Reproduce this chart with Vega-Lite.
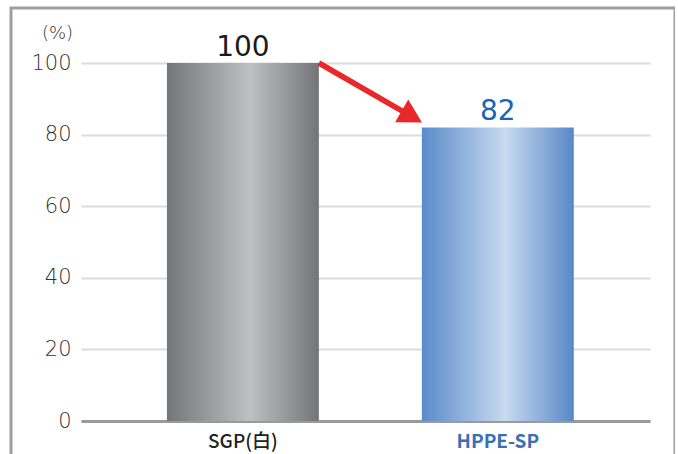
{
  "$schema": "https://vega.github.io/schema/vega-lite/v6.json",
  "width": 664,
  "height": 470,
  "autosize": "none",
  "padding": {"left": 11, "top": 8, "right": 0, "bottom": 0},
  "background": "white",
  "config": {
    "view": {"stroke": "#9d9ea0", "strokeWidth": 3},
    "font": "DejaVu Sans"
  },
  "datasets": {
    "bars": [
      {"name": "SGP(白)", "value": 100},
      {"name": "HPPE-SP", "value": 82}
    ],
    "arrow": [
      {"from": "SGP(白)", "to": "HPPE-SP", "y_from": 100, "y_to": 85}
    ]
  },
  "layer": [
    {
      "data": {"name": "bars"},
      "transform": [{"filter": "datum.name === 'SGP(白)'"}],
      "mark": {
        "type": "bar",
        "color": {
          "gradient": "linear", "x1": 0, "x2": 1, "y1": 0, "y2": 0,
          "stops": [
            {"offset": 0, "color": "#75767a"},
            {"offset": 0.55, "color": "#bfc0c4"},
            {"offset": 1, "color": "#737478"}
          ]
        }
      },
      "encoding": {
        "x": {
          "field": "name", "type": "nominal",
          "scale": {"domain": ["SGP(白)", "HPPE-SP"], "range": [70, 639], "paddingInner": 0.404, "paddingOuter": 0.318, "align": 0.53},
          "axis": {
            "title": null, "orient": "bottom", "offset": -57,
            "domainColor": "#9a9a9a", "domainWidth": 3, "ticks": false, "grid": false,
            "labelAngle": 0, "labelPadding": 11, "labelFontSize": 19, "labelFont": "Noto Sans CJK JP",
            "labelFontWeight": {"condition": {"test": "datum.value === 'HPPE-SP'", "value": "bold"}, "value": 500},
            "labelColor": {"condition": {"test": "datum.value === 'HPPE-SP'", "value": "#3b6fb6"}, "value": "#222222"}
          }
        },
        "y": {
          "field": "value", "type": "quantitative",
          "scale": {"domain": [0, 100], "range": [413, 55]},
          "axis": {
            "title": "(%)", "titleAngle": 0, "titleX": -25, "titleY": 25, "titleAlign": "center", "titleBaseline": "middle",
            "titleFontSize": 18, "titleFontWeight": 200, "titleColor": "#333333", "titleFont": "DejaVu Sans",
            "offset": -71, "domain": false, "ticks": false, "labelPadding": 11, "labelFontSize": 21, "labelFontWeight": 200, "labelColor": "#333333",
            "values": [0, 20, 40, 60, 80, 100], "gridColor": "#dcdcdc", "gridWidth": 2
          }
        }
      }
    },
    {
      "data": {"name": "bars"},
      "transform": [{"filter": "datum.name === 'HPPE-SP'"}],
      "mark": {
        "type": "bar",
        "color": {
          "gradient": "linear", "x1": 0, "x2": 1, "y1": 0, "y2": 0,
          "stops": [
            {"offset": 0, "color": "#5a8bc9"},
            {"offset": 0.55, "color": "#c8daf0"},
            {"offset": 1, "color": "#5888c7"}
          ]
        }
      },
      "encoding": {
        "x": {"field": "name", "type": "nominal"},
        "y": {"field": "value", "type": "quantitative"}
      }
    },
    {
      "data": {"name": "bars"},
      "mark": {"type": "text", "dy": -7, "baseline": "alphabetic", "fontSize": 28, "font": "DejaVu Sans"},
      "encoding": {
        "x": {"field": "name", "type": "nominal"},
        "y": {"field": "value", "type": "quantitative"},
        "text": {"field": "value"},
        "color": {"condition": {"test": "datum.name === 'HPPE-SP'", "value": "#1466b6"}, "value": "#1a1a1a"}
      }
    },
    {
      "data": {"name": "arrow"},
      "mark": {"type": "rule", "color": "#e8282a", "strokeWidth": 5.5, "xOffset": 76, "x2Offset": -86},
      "encoding": {
        "x": {"field": "from", "type": "nominal"},
        "x2": {"field": "to"},
        "y": {"field": "y_from", "type": "quantitative"},
        "y2": {"field": "y_to"}
      }
    },
    {
      "data": {"name": "arrow"},
      "mark": {"type": "point", "shape": "M1,0L-1,-1.12L-1,1.12Z", "filled": true, "opacity": 1, "color": "#e8282a", "size": 552, "angle": 30, "xOffset": -86},
      "encoding": {
        "x": {"field": "to", "type": "nominal"},
        "y": {"field": "y_to", "type": "quantitative"}
      }
    }
  ]
}
